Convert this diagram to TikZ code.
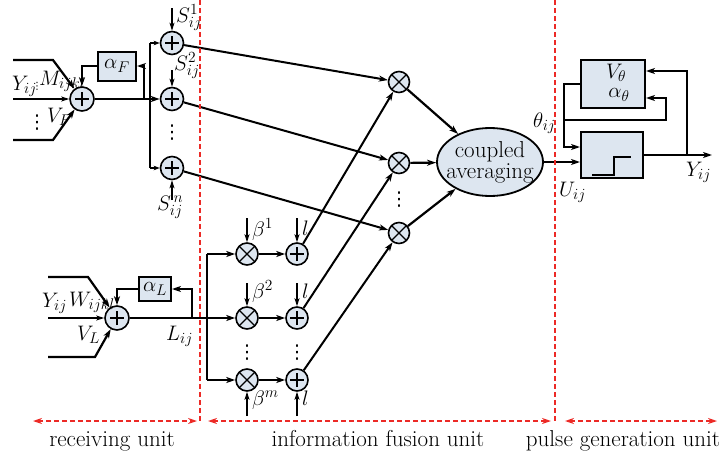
\RequirePackage{fix-cm}
\documentclass[tikz,border=0pt]{standalone}
\usepackage{fontspec}
\newfontfamily\symfont{DejaVu Sans}
\DeclareMathSizes{21}{21}{15.5}{12}
\usetikzlibrary{arrows.meta,calc,shapes.geometric}
\definecolor{blockfill}{RGB}{221,230,240}
\definecolor{unitred}{RGB}{236,42,38}
% vertical ellipsis glyph
\newcommand{\vdotsym}{{\symfont ⋮}}
\begin{document}
\begin{tikzpicture}[x=1pt,y=-1pt,
  font=\fontsize{21}{23}\selectfont,
  wire/.style={line width=2.2pt},
  flow/.style={line width=2.2pt,-{Stealth[length=9pt,width=6pt,inset=2.5pt]}},
  shortflow/.style={line width=2.2pt,-{Stealth[length=6pt,width=4.5pt,inset=1.5pt]}},
  tap/.style={line width=1.1pt,-{Stealth[length=8pt,width=5pt,inset=2pt]}},
  sumnode/.style={circle,draw,fill=blockfill,line width=1.6pt,minimum size=23pt,inner sep=0pt,
    path picture={\draw[line width=1.6pt]
      ($(path picture bounding box.center)+(-7pt,0pt)$) -- ++(14pt,0pt)
      ($(path picture bounding box.center)+(0pt,-7pt)$) -- ++(0pt,14pt);}},
  mulnode/.style={circle,draw,fill=blockfill,line width=1.6pt,minimum size=22pt,inner sep=0pt,
    path picture={\draw[line width=1.4pt]
      ($(path picture bounding box.center)+(-9pt,-9pt)$) -- ++(18pt,18pt)
      ($(path picture bounding box.center)+(-9pt,9pt)$) -- ++(18pt,-18pt);}},
  block/.style={draw,fill=blockfill,line width=2pt,inner sep=0pt},
  lab/.style={anchor=base west,inner sep=0pt},
  dots/.style={inner sep=0pt,font=\fontsize{19}{19}\selectfont},
  unitline/.style={unitred,line width=2.4pt,dash pattern=on 5pt off 3pt},
  unitspan/.style={unitline,{Stealth[length=9pt,width=6pt]}-{Stealth[length=9pt,width=6pt]}},
  unitname/.style={anchor=base,inner sep=0pt,font=\fontsize{23}{25}\selectfont},
]
\useasboundingbox (0,0) rectangle (723,458);

% ---------- receiving unit: feeding channel ----------
\node[sumnode,minimum size=24pt] (sF) at (82,99) {};
\node[block,minimum width=38pt,minimum height=29pt] (aF) at (117,66) {$\alpha_F$};
\node[sumnode] (sS1) at (172,43) {};
\node[sumnode] (sS2) at (172,99) {};
\node[sumnode] (sSn) at (172,168) {};

\coordinate (fa0) at (13,60);  \coordinate (fa1) at (53,60);
\coordinate (fb0) at (13,140); \coordinate (fb1) at (53,140);
\coordinate (fy)  at (13,99);
\draw[flow] (fa0) -- (fa1) -- (sF);
\draw[flow] (fb0) -- (fb1) -- (sF);
\draw[tap] (fy) -- (sF);
\draw[flow] (sF) -- (sS2);
\coordinate (ffb) at (144,99);
\draw[flow] (ffb) |- (aF.east);
\draw[flow] (aF.west) -| (sF.north);

\coordinate (busT) at (150,43); \coordinate (busB) at (150,168);
\draw[wire] (busT) -- (busB);
\draw[shortflow] (busT) -- (sS1);
\draw[shortflow] (busB) -- (sSn);

\coordinate (t1) at (172,8);   \draw[tap] (t1) -- (sS1);
\coordinate (t2) at (172,70);  \draw[tap] (t2) -- (sS2);
\coordinate (tn) at (172,200); \draw[tap] (tn) -- (sSn);

\node[lab] at (12,90) {$Y_{ij}$};
\node[dots,font=\fontsize{10}{10}\selectfont] at (37,86) {\vdotsym};
\node[lab] at (39,85) {$M_{ijkl}$};
\node[lab] at (47,122) {$V_F$};
\node[dots] at (37,123) {\vdotsym};
\node[lab] at (176,22) {$S_{ij}^{1}$};
\node[lab] at (174,70) {$S_{ij}^{2}$};
\node[lab] at (157,210) {$S_{ij}^{\,n}$};
\node[dots] at (172,133) {\vdotsym};

% ---------- receiving unit: linking channel ----------
\node[sumnode,minimum size=24pt] (sL) at (117,318) {};
\node[block,minimum width=32pt,minimum height=24pt] (aL) at (155,289) {$\alpha_L$};
\coordinate (la0) at (48,277); \coordinate (la1) at (88,277);
\coordinate (lb0) at (48,357); \coordinate (lb1) at (95,357);
\coordinate (ly)  at (48,318);
\draw[flow] (la0) -- (la1) -- (sL);
\draw[flow] (lb0) -- (lb1) -- (sL);
\draw[tap] (ly) -- (sL);
\coordinate (lfb) at (192,318);
\draw[flow] (lfb) |- (aL.east);
\draw[flow] (aL.west) -| (sL.north);

\node[lab] at (42,307) {$Y_{ij}$};
\node[lab] at (69,306) {$W_{ijkl}$};
\node[lab] at (77,340) {$V_L$};
\node[lab] at (166,340) {$L_{ij}$};

% ---------- information fusion unit ----------
\node[mulnode] (m1) at (247,254) {};
\node[mulnode] (m2) at (247,318) {};
\node[mulnode] (mm) at (247,380) {};
\node[sumnode,minimum size=22pt] (p1) at (297,254) {};
\node[sumnode,minimum size=22pt] (p2) at (297,318) {};
\node[sumnode,minimum size=22pt] (pm) at (297,380) {};
\node[mulnode,minimum size=21pt] (x1) at (399,82) {};
\node[mulnode,minimum size=21pt] (x2) at (399,163) {};
\node[mulnode,minimum size=21pt] (xn) at (399,233) {};
\node[ellipse,draw,fill=blockfill,line width=1.8pt,minimum width=106pt,minimum height=68pt,inner sep=0pt] (avg) at (490,162) {};
\node[align=center,font=\fontsize{23}{21}\selectfont] at (avg) {coupled\\averaging};

\draw[flow] (sL) -- (m2);
\coordinate (b2T) at (207,254); \coordinate (b2B) at (207,380);
\draw[wire] (b2T) -- (b2B);
\draw[flow] (b2T) -- (m1);
\draw[flow] (b2B) -- (mm);
\draw[flow] (m1) -- (p1);
\draw[flow] (m2) -- (p2);
\draw[flow] (mm) -- (pm);

\coordinate (bt1) at (247,218); \draw[tap] (bt1) -- (m1);
\coordinate (bt2) at (247,283); \draw[tap] (bt2) -- (m2);
\coordinate (btm) at (247,416); \draw[tap] (btm) -- (mm);
\coordinate (lt1) at (297,218); \draw[tap] (lt1) -- (p1);
\coordinate (lt2) at (297,283); \draw[tap] (lt2) -- (p2);
\coordinate (ltm) at (297,416); \draw[tap] (ltm) -- (pm);

\node[lab] at (252,236) {$\beta^{1}$};
\node[lab] at (302,235) {$l$};
\node[lab] at (252,298) {$\beta^{2}$};
\node[lab] at (302,298) {$l$};
\node[lab] at (252,405) {$\beta^{m}$};
\node[lab] at (302,405) {$l$};
\node[dots] at (247,353) {\vdotsym};
\node[dots] at (297,353) {\vdotsym};
\node[dots] at (399,200) {\vdotsym};

\draw[flow,line width=2pt] (sS1) -- (x1);
\draw[flow,line width=2pt] (sS2) -- (x2);
\draw[flow,line width=2pt] (sSn) -- (xn);
\draw[flow,line width=2pt] (p1) -- (x1);
\draw[flow,line width=2pt] (p2) -- (x2);
\draw[flow,line width=2pt] (pm) -- (xn);
\draw[flow] (x1) -- (avg);
\draw[flow] (x2) -- (avg);
\draw[flow] (xn) -- (avg);

% ---------- pulse generation unit ----------
\node[block,minimum width=64pt,minimum height=48pt] (thr) at (613,84) {};
\node at (616,73) {$V_\theta$};
\node at (619,95) {$\alpha_\theta$};
\node[block,minimum width=62pt,minimum height=46pt] (step) at (612,155) {};
\draw[line width=2.5pt] (592,175) -- (614,175) -- (614,157) -- (631,157);

\draw[flow] (avg) -- (avg -| step.west);
\coordinate (yout) at (712,155);
\draw[flow] (step.east) -- (yout);
\coordinate (yfb) at (687,155);
\draw[flow] (yfb) |- ($(thr.east)+(0,-13)$);
\coordinate (lp1) at (564,84); \coordinate (lp2) at (564,147);
\draw[flow] (thr.west) -- (lp1) -- (lp2) -- ($(step.west)+(0,-8)$);
\coordinate (tb0) at (564,120); \coordinate (tb1) at (666,120);
\draw[flow] (tb0) -- (tb1) |- ($(thr.east)+(0,14)$);

\node[lab] at (533,127) {$\theta_{ij}$};
\node[lab] at (559,196) {$U_{ij}$};
\node[lab] at (686,176) {$Y_{ij}$};

% ---------- unit boundaries ----------
\coordinate (d1t) at (200,0); \coordinate (d1b) at (200,421);
\coordinate (d2t) at (555,0); \coordinate (d2b) at (555,421);
\draw[unitline] (d1t) -- (d1b);
\draw[unitline] (d2t) -- (d2b);
\coordinate (r0) at (33,421);  \coordinate (r1) at (197,421);
\coordinate (i0) at (208,421); \coordinate (i1) at (551,421);
\coordinate (g0) at (565,421); \coordinate (g1) at (717,421);
\draw[unitspan] (r0) -- (r1);
\draw[unitspan] (i0) -- (i1);
\draw[unitspan] (g0) -- (g1);

\node[unitname] at (112,446) {receiving unit};
\node[unitname] at (378,446) {information fusion unit};
\node[unitname] at (623,446) {pulse generation unit};
\end{tikzpicture}
\end{document}
